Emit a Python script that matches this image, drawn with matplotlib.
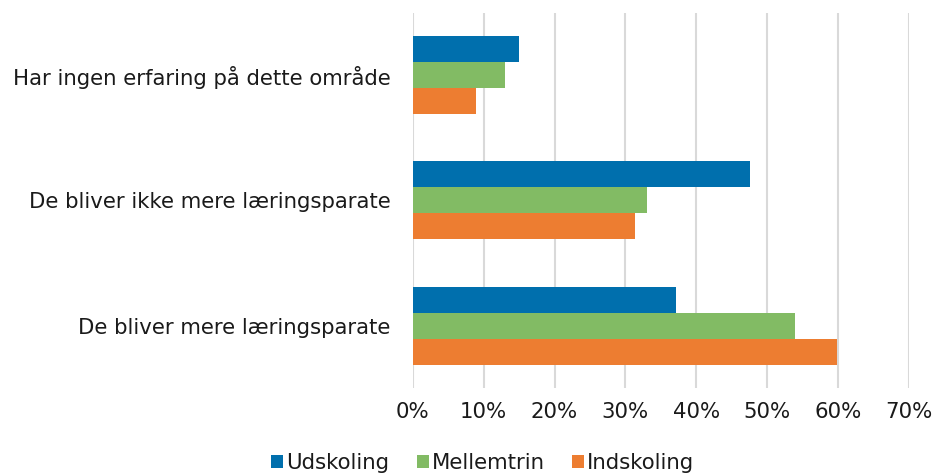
import numpy as np
import matplotlib.pyplot as plt
from matplotlib.ticker import PercentFormatter

# svarkategorier, nederst først
kategorier = ['De bliver mere læringsparate',
              'De bliver ikke mere læringsparate',
              'Har ingen erfaring på dette område']

udskoling = [37.2, 47.6, 15.0]
mellemtrin = [54.0, 33.0, 13.0]
indskoling = [59.8, 31.3, 8.9]

farver = {'Udskoling': '#006fad', 'Mellemtrin': '#82bb64', 'Indskoling': '#ed7d31'}

fig = plt.figure(figsize=(9.34, 4.75), dpi=100)
ax = fig.add_axes([0.442, 0.183, 0.531, 0.79])

y = np.arange(len(kategorier))
h = 0.208
ax.barh(y + h, udskoling, h, color=farver['Udskoling'], label='Udskoling', zorder=3)
ax.barh(y, mellemtrin, h, color=farver['Mellemtrin'], label='Mellemtrin', zorder=3)
ax.barh(y - h, indskoling, h, color=farver['Indskoling'], label='Indskoling', zorder=3)

ax.set_xlim(0, 70)
ax.set_ylim(-0.5, 2.5)
ax.set_xticks(np.arange(0, 71, 10))
ax.xaxis.set_major_formatter(PercentFormatter(decimals=0))
ax.set_yticks(y)
ax.set_yticklabels(kategorier)

ax.grid(axis='x', color='#d9d9d9', lw=1.5, zorder=0)
for s in ax.spines.values():
    s.set_visible(False)
ax.tick_params(axis='both', length=0, labelsize=15.3, colors='#1a1a1a')
ax.tick_params(axis='x', pad=10)
ax.tick_params(axis='y', pad=16)

fig.legend(loc='lower center', bbox_to_anchor=(0.517, -0.036), ncol=3, frameon=False,
           fontsize=15.3, handlelength=0.55, handleheight=0.55, handletextpad=0.15,
           columnspacing=1.3, labelcolor='#1a1a1a')

fig.savefig('out.png', dpi=100)
